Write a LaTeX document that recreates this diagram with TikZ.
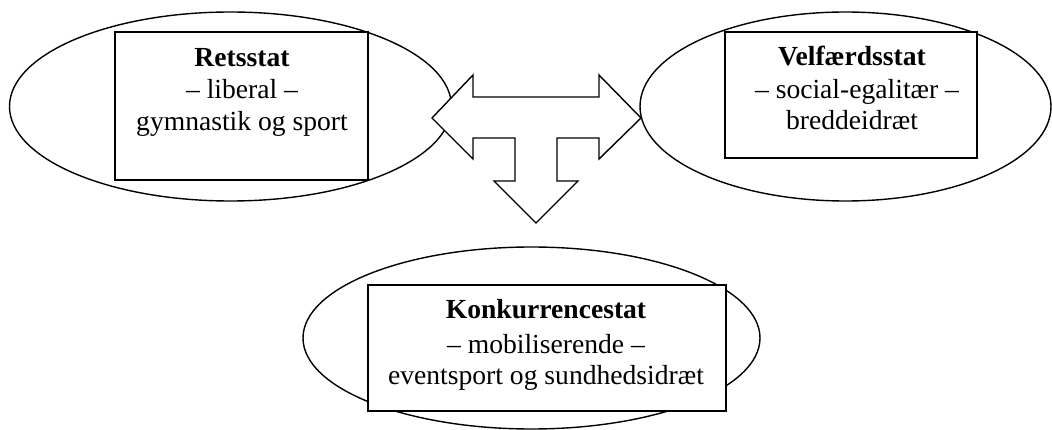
\documentclass[tikz,border=0pt]{standalone}
\usepackage{fontspec}
\setmainfont{Liberation Serif}
\usetikzlibrary{shapes.geometric}
\begin{document}
\begin{tikzpicture}[x=1pt,y=-1pt,
  oval/.style={ellipse,draw,line width=1.4pt,inner sep=0pt,fill=white},
  box/.style={draw,line width=1.4pt,fill=white,inner sep=0pt},
  txt/.style={anchor=base,inner sep=0pt,font=\fontsize{27.6}{32}\selectfont},
  ttl/.style={txt,font=\fontsize{27.6}{32}\selectfont\bfseries}]
\useasboundingbox (0,0) rectangle (1052,430);
% ellipses
\node[oval,minimum width=442pt,minimum height=189pt] (eL) at (230.5,106.5) {};
\node[oval,minimum width=411pt,minimum height=189pt] (eR) at (845.5,106.5) {};
\node[oval,minimum width=457pt,minimum height=182pt] (eB) at (531.5,338) {};
% boxes
\node[box,minimum width=253pt,minimum height=148pt] (bL) at (241.5,106) {};
\node[box,minimum width=252pt,minimum height=126pt] (bR) at (851,95) {};
\node[box,minimum width=358pt,minimum height=126pt] (bB) at (547,348) {};
% texts
\node[ttl] (tL1) at (242,66.5) {Retsstat};
\node[txt] (tL2) at (242,99) {– liberal –};
\node[txt] (tL3) at (242,130.5) {gymnastik og sport};
\node[ttl] (tR1) at (852,66) {Velfærdsstat};
\node[txt] (tR2) at (857,99) {– social-egalitær –};
\node[txt] (tR3) at (852,130) {breddeidræt};
\node[ttl] (tB1) at (546,319) {Konkurrencestat};
\node[txt] (tB2) at (546,353) {– mobiliserende –};
\node[txt] (tB3) at (546,384) {eventsport og sundhedsidræt};
% T-shaped arrow
\draw[line width=1.4pt,fill=white,line join=miter]
  (432,118) -- (473,75) -- (473,97) -- (599,97) -- (599,75) -- (641,118)
  -- (599,159) -- (599,138) -- (557,138) -- (557,181) -- (578,181)
  -- (536,223) -- (494,181) -- (515,181) -- (515,138) -- (473,138)
  -- (473,159) -- cycle;
\end{tikzpicture}
\end{document}
